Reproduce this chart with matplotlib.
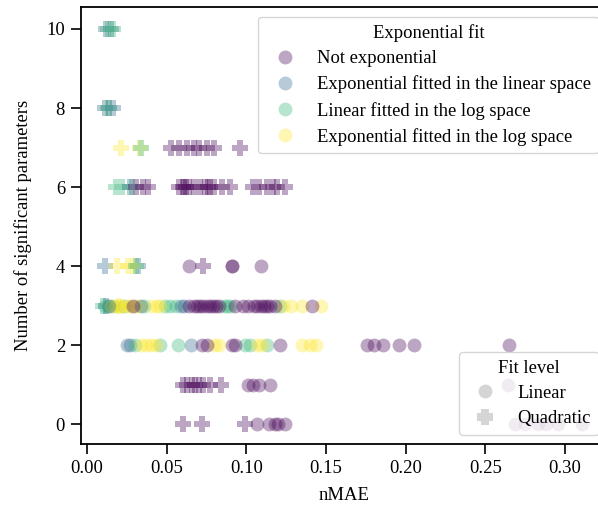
import numpy as np
import matplotlib
matplotlib.use("Agg")
import matplotlib.pyplot as plt
from matplotlib.lines import Line2D
from matplotlib.path import Path

plt.rcParams['font.family'] = ['Liberation Serif', 'DejaVu Serif']
plt.rcParams['font.size'] = 13.4

categories = ["Not exponential",
              "Exponential fitted in the linear space",
              "Linear fitted in the log space",
              "Exponential fitted in the log space"]
levels = ["Linear", "Quadratic"]

# rows of (n_params, fit level, category index, nMAE values)
rows = [
    (10, 1, 1, [0.012, 0.015]),
    (10, 1, 2, [0.013, 0.016]),
    (8, 1, 1, [0.011, 0.014, 0.016]),
    (8, 1, 2, [0.013]),
    (7, 1, 3, [0.021, 0.033]),
    (7, 1, 2, [0.034]),
    (7, 1, 0, [0.053, 0.058, 0.063, 0.067, 0.070, 0.075, 0.080, 0.096]),
    (6, 1, 2, [0.018, 0.022, 0.028]),
    (6, 1, 1, [0.027]),
    (6, 1, 0, [0.031, 0.035, 0.038, 0.058, 0.060, 0.061, 0.062, 0.064, 0.067, 0.071,
               0.074, 0.076, 0.077, 0.080, 0.085, 0.090,
               0.104, 0.108, 0.113, 0.117, 0.119, 0.124]),
    (4, 1, 1, [0.011, 0.032]),
    (4, 1, 3, [0.019, 0.026, 0.029]),
    (4, 1, 2, [0.031]),
    (4, 1, 0, [0.073]),
    (4, 0, 0, [0.064, 0.091, 0.091, 0.109]),
    (3, 1, 2, [0.010]),
    (3, 1, 1, [0.012]),
    (3, 1, 3, [0.020]),
    (3, 0, 2, [0.011, 0.013, 0.016, 0.023, 0.036, 0.049, 0.052, 0.056,
               0.086, 0.088, 0.090, 0.121]),
    (3, 0, 3, [0.015, 0.018, 0.020, 0.022, 0.025, 0.027, 0.030, 0.032, 0.040,
               0.044, 0.046, 0.123, 0.128, 0.135, 0.147]),
    (3, 0, 1, [0.014, 0.034, 0.059, 0.061]),
    (3, 0, 0, [0.029, 0.064, 0.067, 0.069, 0.071, 0.073, 0.075, 0.077, 0.079, 0.081,
               0.083, 0.093, 0.098, 0.101, 0.105, 0.107, 0.109, 0.111, 0.113, 0.115,
               0.118, 0.141]),
    (2, 0, 1, [0.025, 0.027, 0.065]),
    (2, 0, 2, [0.030, 0.046, 0.057, 0.099, 0.102, 0.113]),
    (2, 0, 3, [0.034, 0.037, 0.040, 0.043, 0.080, 0.083, 0.107, 0.110, 0.135,
               0.140, 0.144]),
    (2, 0, 0, [0.072, 0.075, 0.091, 0.093, 0.121, 0.176, 0.180, 0.186, 0.196,
               0.205, 0.265]),
    (1, 1, 0, [0.060, 0.063, 0.066, 0.068, 0.070, 0.073, 0.077, 0.084]),
    (1, 0, 0, [0.101, 0.104, 0.108, 0.115, 0.264]),
    (0, 1, 0, [0.060, 0.072, 0.099]),
    (0, 0, 0, [0.107, 0.114, 0.118, 0.120, 0.124, 0.269, 0.275, 0.283, 0.288,
               0.296, 0.311]),
]

# a chunkier filled plus than matplotlib's "P"
a, b = 0.22, 0.5
fat_plus = Path([(-a, -b), (a, -b), (a, -a), (b, -a), (b, a), (a, a), (a, b),
                 (-a, b), (-a, a), (-b, a), (-b, -a), (-a, -a), (-a, -b)])

colors = plt.cm.viridis(np.linspace(0, 1, 4))
markers = ["o", fat_plus]
alpha = 0.35

fig = plt.figure(figsize=(5.98, 5.14), dpi=100)
ax = fig.add_axes([0.1355, 0.136, 0.881, 0.85])

for n, lvl, cat, xs in rows:
    ax.scatter(xs, [n] * len(xs), s=100 if lvl == 0 else 130, c=[colors[cat]],
               marker=markers[lvl], alpha=alpha, linewidths=0)

ax.set_xlim(-0.0038, 0.327)
ax.set_ylim(-0.5, 10.55)
ax.set_xticks([0.0, 0.05, 0.10, 0.15, 0.20, 0.25, 0.30])
ax.set_yticks([0, 2, 4, 6, 8, 10])
ax.set_xlabel("nMAE", labelpad=7)
ax.set_ylabel("Number of significant parameters", labelpad=10)
for sp in ax.spines.values():
    sp.set_linewidth(1.3)
ax.tick_params(width=1.2, length=7, pad=4.5)

h1 = [Line2D([], [], ls="", marker="o", ms=10, color=colors[i], alpha=alpha,
             markeredgewidth=0) for i in range(4)]
leg1 = ax.legend(h1, categories, title="Exponential fit", loc="upper right",
                 handletextpad=0.75, borderaxespad=0.5, labelspacing=0.45)
ax.add_artist(leg1)
h2 = [Line2D([], [], ls="", marker=m, ms=10 if i == 0 else 11.5, color="#888888",
             alpha=alpha, markeredgewidth=0) for i, m in enumerate(markers)]
ax.legend(h2, levels, title="Fit level", loc="lower right",
          handletextpad=0.75, borderaxespad=0.5, labelspacing=0.45)

fig.savefig("out.png", dpi=100)
